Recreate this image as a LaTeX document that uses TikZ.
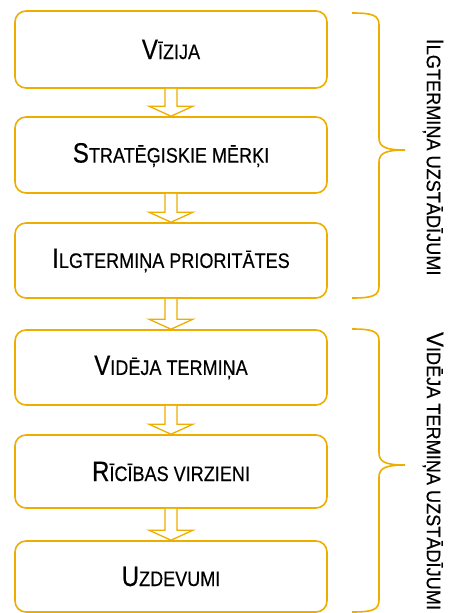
\documentclass[tikz,border=0pt]{standalone}
\usepackage{fontspec}
\usepackage{graphicx}
\setmainfont{Liberation Sans}
\newfontfamily\medfont{Liberation Sans}[FakeBold=0.4]
\usetikzlibrary{calc}
\definecolor{gold}{RGB}{238,174,0}
\newcommand{\boxtext}[2]{\scalebox{0.86}[1]{\medfont\fontsize{28}{28}\selectfont #1\fontsize{21}{21}\selectfont #2}}
\newcommand{\sidetext}[2]{\scalebox{0.93}[1]{\medfont\fontsize{24}{24}\selectfont #1\fontsize{19.5}{19.5}\selectfont #2}}
\newcommand{\blockarrow}[2]{%
  \draw[barrow] ($(#1.south)+(-6,0)$) -- ($(#2.north)+(-6,-10)$) -- ($(#2.north)+(-22,-10)$)
    -- (#2.north) -- ($(#2.north)+(22,-10)$) -- ($(#2.north)+(6,-10)$) -- ($(#1.south)+(6,0)$);}
\tikzset{
  stagebox/.style={draw=gold, line width=1.6pt, rounded corners=11pt, fill=white,
    minimum width=312pt, inner sep=0pt, text=black},
  barrow/.style={draw=gold, line width=1.3pt, fill=white, line join=miter},
  bracepath/.style={draw=gold, line width=1.6pt},
  sidelabel/.style={rotate=-90, inner sep=0pt, text=black}
}
\begin{document}
\begin{tikzpicture}[x=1pt,y=-1pt]
\useasboundingbox (0,0) rectangle (453,613);
\fill[white] (0,0) rectangle (453,613);
\node[stagebox, minimum height=77pt] (b1) at (171,49.5) {\boxtext{V}{ĪZIJA}};
\node[stagebox, minimum height=76pt] (b2) at (171,155) {\boxtext{S}{TRATĒĢISKIE MĒRĶI}};
\node[stagebox, minimum height=75pt] (b3) at (171,260.5) {\boxtext{I}{LGTERMIŅA PRIORITĀTES}};
\node[stagebox, minimum height=75pt] (b4) at (171,367.5) {\boxtext{V}{IDĒJA TERMIŅA}};
\node[stagebox, minimum height=73pt] (b5) at (171,471.5) {\boxtext{R}{ĪCĪBAS VIRZIENI}};
\node[stagebox, minimum height=71pt] (b6) at (171,576.5) {\boxtext{U}{ZDEVUMI}};
\blockarrow{b1}{b2}
\blockarrow{b2}{b3}
\blockarrow{b3}{b4}
\blockarrow{b4}{b5}
\blockarrow{b5}{b6}
% braces
\draw[bracepath] (352,13) .. controls (372,13) and (379,15) .. (379,25) -- (379,138)
  .. controls (379,147) and (386,150) .. (405,150)
  .. controls (386,150) and (379,153) .. (379,162) -- (379,286)
  .. controls (379,296) and (372,298) .. (352,298);
\draw[bracepath] (352,329) .. controls (372,329) and (379,331) .. (379,341) -- (379,453)
  .. controls (379,462) and (386,465) .. (405,465)
  .. controls (386,465) and (379,468) .. (379,477) -- (379,600)
  .. controls (379,610) and (372,612) .. (352,612);
\node[sidelabel] (s1) at (433,157) {\sidetext{I}{LGTERMIŅA UZSTĀDĪJUMI}};
\node[sidelabel] (s2) at (433,471) {\sidetext{V}{IDĒJA TERMIŅA UZSTĀDĪJUMI}};
\end{tikzpicture}
\end{document}
